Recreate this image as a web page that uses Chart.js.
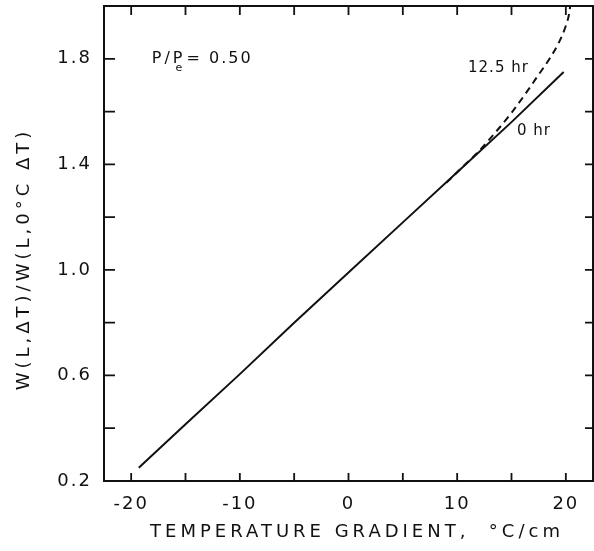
<!DOCTYPE html>
<html>
<head>
<meta charset="utf-8">
<script src="https://cdn.jsdelivr.net/npm/chart.js@4.4.1/dist/chart.umd.min.js"></script>
<style>
  html, body { margin: 0; padding: 0; background: #fff; }
  #wrap { width: 594px; height: 551px; position: relative; }
</style>
</head>
<body>
<div id="wrap"><canvas id="chart"></canvas></div>
<script>
// temperature gradient (°C/cm) vs W(L,dT)/W(L,0) at P/Pe = 0.50
var grad0hr = [-19.3, -15, -10, -5, 0, 5, 10, 15, 19.8];
var ratio0hr = [0.25, 0.415, 0.605, 0.80, 0.99, 1.18, 1.37, 1.56, 1.75];

var grad12hr = [9.0, 10.5, 12.0, 13.5, 15.0, 16.5, 17.5, 18.5, 19.4, 20.0, 20.3, 20.4];
var ratio12hr = [1.33, 1.39, 1.45, 1.52, 1.595, 1.68, 1.74, 1.80, 1.865, 1.925, 1.97, 2.0];

// axis ticks; only some of them carry a label
var xTicks = [-20, -15, -10, -5, 0, 5, 10, 15, 20];
var xLabeled = [-20, -10, 0, 10, 20];
var yTicks = [0.2, 0.4, 0.6, 0.8, 1.0, 1.2, 1.4, 1.6, 1.8];
var yLabeled = [0.2, 0.6, 1.0, 1.4, 1.8];

var curveNotes = [
    { text: '12.5 hr', x: 11.0, y: 1.765 },
    { text: '0 hr', x: 15.5, y: 1.525 }
];

var INK = '#111';
var FONT = '"DejaVu Sans", sans-serif';

function toPoints(xs, ys) {
    var pts = [];
    for (var i = 0; i < xs.length; i++) {
        pts.push({ x: xs[i], y: ys[i] });
    }
    return pts;
}

function isLabeled(list, v) {
    for (var i = 0; i < list.length; i++) {
        if (Math.abs(list[i] - v) < 1e-6) return true;
    }
    return false;
}

var framePlugin = {
    id: 'frame',
    beforeDraw: function (chart) {
        chart.ctx.letterSpacing = '2px';
    },
    afterDraw: function (chart) {
        var ctx = chart.ctx;
        var a = chart.chartArea;
        var xs = chart.scales.x;
        var ys = chart.scales.y;

        ctx.save();
        ctx.strokeStyle = INK;
        ctx.lineWidth = 2;
        ctx.strokeRect(a.left, a.top, a.right - a.left, a.bottom - a.top);

        // inward tick marks on all four sides
        ctx.lineWidth = 1.8;
        ctx.beginPath();
        xTicks.forEach(function (v) {
            var px = xs.getPixelForValue(v);
            ctx.moveTo(px, a.bottom);
            ctx.lineTo(px, a.bottom - 8);
            ctx.moveTo(px, a.top);
            ctx.lineTo(px, a.top + 9);
        });
        yTicks.forEach(function (v) {
            var py = ys.getPixelForValue(v);
            ctx.moveTo(a.left, py);
            ctx.lineTo(a.left + 11, py);
            ctx.moveTo(a.right, py);
            ctx.lineTo(a.right - 8, py);
        });
        ctx.stroke();

        // axis titles
        ctx.fillStyle = INK;
        ctx.letterSpacing = '4px';
        ctx.font = '18px ' + FONT;
        ctx.textAlign = 'center';
        ctx.textBaseline = 'middle';
        ctx.fillText('TEMPERATURE GRADIENT,  \u00B0C/cm', 357, 532);

        ctx.save();
        ctx.translate(24, 259);
        ctx.rotate(-Math.PI / 2);
        ctx.fillText('W(L,\u0394T)/W(L,0\u00B0C \u0394T)', 0, 0);
        ctx.restore();

        // curve labels
        ctx.letterSpacing = '1px';
        ctx.font = '15px ' + FONT;
        ctx.textAlign = 'left';
        curveNotes.forEach(function (n) {
            ctx.fillText(n.text, xs.getPixelForValue(n.x), ys.getPixelForValue(n.y));
        });

        // P/Pe = 0.50
        var px = xs.getPixelForValue(-18.1);
        var py = ys.getPixelForValue(1.8);
        ctx.letterSpacing = '3px';
        ctx.font = '16px ' + FONT;
        ctx.fillText('P/P', px, py);
        var w = ctx.measureText('P/P').width;
        ctx.font = '11px ' + FONT;
        ctx.letterSpacing = '0px';
        ctx.fillText('e', px + w - 10, py + 9);
        ctx.font = '16px ' + FONT;
        ctx.letterSpacing = '2px';
        ctx.fillText('= 0.50', px + w + 1, py);
        ctx.restore();
    }
};

var ctx = document.getElementById('chart').getContext('2d');
var chart = new Chart(ctx, {
    type: 'line',
    data: {
        datasets: [
            {
                label: '0 hr',
                data: toPoints(grad0hr, ratio0hr),
                borderColor: INK,
                borderWidth: 2,
                pointRadius: 0,
                tension: 0,
                fill: false
            },
            {
                label: '12.5 hr',
                data: toPoints(grad12hr, ratio12hr),
                borderColor: INK,
                borderWidth: 2,
                borderDash: [7, 5],
                pointRadius: 0,
                cubicInterpolationMode: 'monotone',
                fill: false
            }
        ]
    },
    options: {
        responsive: true,
        maintainAspectRatio: false,
        animation: false,
        events: [],
        layout: { padding: { top: 6, right: 1, left: 0, bottom: 0 } },
        plugins: {
            legend: { display: false },
            tooltip: { enabled: false }
        },
        scales: {
            x: {
                type: 'linear',
                min: -22.5,
                max: 22.5,
                grid: { display: false, drawTicks: false },
                border: { display: false },
                afterBuildTicks: function (scale) {
                    scale.ticks = xTicks.map(function (v) { return { value: v }; });
                },
                afterFit: function (scale) {
                    scale.height = 70;
                    scale.paddingLeft = 0;
                    scale.paddingRight = 0;
                },
                ticks: {
                    padding: 13,
                    color: INK,
                    font: { family: FONT, size: 18 },
                    maxRotation: 0,
                    autoSkip: false,
                    callback: function (v) {
                        return isLabeled(xLabeled, v) ? String(v) : '';
                    }
                }
            },
            y: {
                type: 'linear',
                min: 0.2,
                max: 2.0,
                grid: { display: false, drawTicks: false },
                border: { display: false },
                afterBuildTicks: function (scale) {
                    scale.ticks = yTicks.map(function (v) { return { value: v }; });
                },
                afterFit: function (scale) {
                    scale.width = 104;
                    scale.paddingTop = 0;
                    scale.paddingBottom = 0;
                },
                ticks: {
                    padding: 12,
                    color: INK,
                    font: { family: FONT, size: 18 },
                    autoSkip: false,
                    callback: function (v) {
                        return isLabeled(yLabeled, v) ? v.toFixed(1) : '';
                    }
                }
            }
        }
    },
    plugins: [framePlugin]
});
</script>
</body>
</html>
